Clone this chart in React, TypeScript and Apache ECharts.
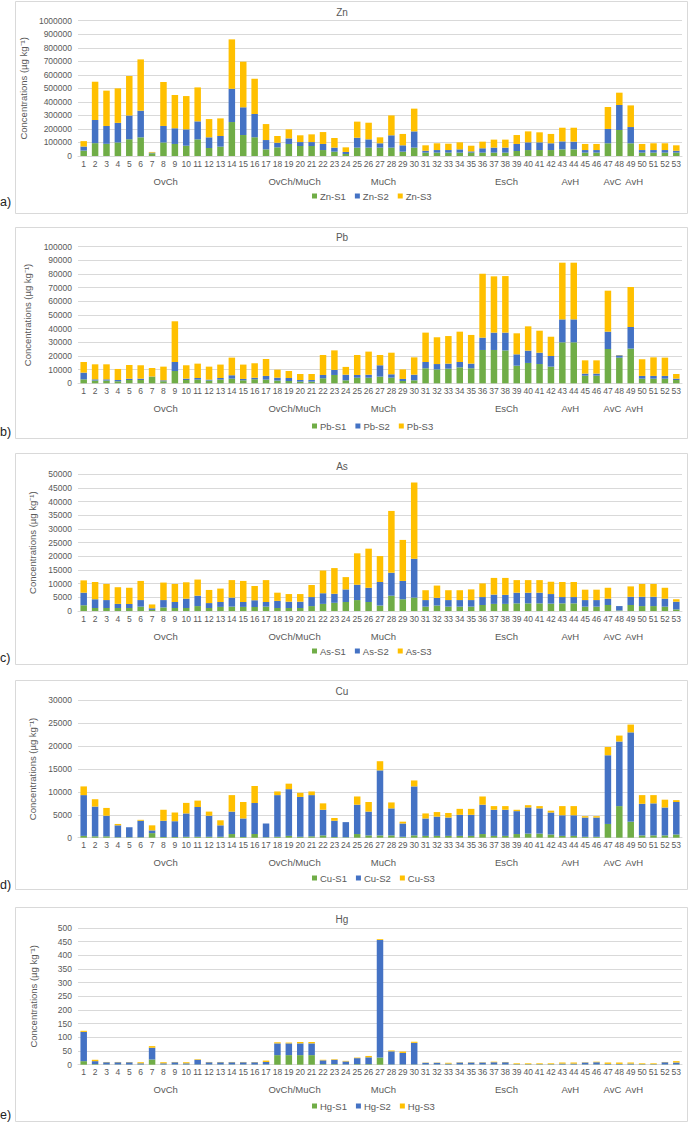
import React, { useEffect, useRef } from "react";
import * as echarts from "echarts";

const categories = Array.from({ length: 53 }, (_, i) => String(i + 1));

const groupPositions = [8.2, 19.5, 27.3, 38.1, 43.7, 47.4, 49.3];
const groupLabels = ["OvCh", "OvCh/MuCh", "MuCh", "EsCh", "AvH", "AvC", "AvH"];

const znS1 = [40000, 95000, 90000, 100000, 123000, 138000, 20000, 100000, 89000, 76000, 123000, 59000, 69000, 251000, 155000, 138000, 49000, 64000, 89000, 74000, 74000, 44000, 32000, 15000, 62000, 62000, 62000, 62000, 32000, 62000, 25000, 25000, 25000, 25000, 25000, 25000, 25000, 25000, 37000, 44000, 44000, 44000, 49000, 49000, 25000, 25000, 94000, 192000, 94000, 25000, 25000, 25000, 25000];
const znS2 = [30000, 171000, 132000, 145000, 177000, 197000, 5000, 122000, 116000, 121000, 133000, 79000, 79000, 246000, 205000, 172000, 69000, 34000, 41000, 29000, 29000, 45000, 30000, 15000, 73000, 61000, 32000, 91000, 47000, 120000, 14000, 19000, 19000, 24000, 9000, 32000, 37000, 37000, 52000, 57000, 57000, 50000, 59000, 57000, 19000, 19000, 106000, 185000, 120000, 19000, 19000, 19000, 14000];
const znS3 = [40000, 283000, 261000, 255000, 291000, 379000, 5000, 325000, 246000, 246000, 251000, 135000, 130000, 365000, 337000, 261000, 118000, 50000, 67000, 50000, 57000, 88000, 71000, 34000, 119000, 123000, 44000, 147000, 84000, 168000, 40000, 50000, 47000, 52000, 42000, 49000, 59000, 59000, 66000, 81000, 74000, 69000, 101000, 103000, 45000, 45000, 162000, 91000, 160000, 45000, 50000, 50000, 40000];

const pbS1 = [2900, 2000, 2000, 1500, 2400, 2400, 4600, 1500, 9000, 2400, 2700, 2000, 2700, 3400, 2200, 2900, 2700, 2000, 1700, 1200, 1200, 3700, 6100, 2200, 4100, 4100, 4900, 4100, 1700, 2200, 11000, 10200, 10700, 11700, 11000, 24400, 24400, 24100, 12900, 14900, 14100, 12200, 30000, 30000, 5600, 5600, 25100, 18800, 25400, 3400, 3400, 3400, 2400];
const pbS2 = [4900, 900, 900, 900, 1000, 1000, 300, 700, 6600, 1000, 1200, 700, 1200, 2500, 1000, 1200, 2700, 2100, 2200, 1200, 1200, 2400, 3700, 4100, 2000, 2200, 8300, 2500, 1500, 4100, 4600, 3900, 3700, 3900, 3400, 9000, 12700, 13000, 8300, 9000, 8300, 7800, 16800, 16800, 1500, 1500, 12700, 1700, 15800, 2000, 2000, 2000, 1000];
const pbS3 = [7800, 11000, 11000, 8100, 10000, 9800, 6300, 10000, 29800, 9800, 10500, 9500, 9800, 12900, 10500, 10500, 12400, 5900, 5100, 4400, 4400, 14600, 14300, 5700, 14600, 16900, 7500, 15800, 7000, 12700, 21500, 19600, 20200, 22200, 21000, 46800, 41200, 41400, 15400, 17800, 16100, 14100, 41500, 41500, 9700, 9700, 30000, 200, 29300, 12200, 13600, 13400, 3400];

const asS1 = [2100, 1100, 1100, 1100, 1100, 1600, 400, 1300, 1100, 1100, 1800, 1100, 1500, 1600, 1500, 1500, 1600, 1100, 1100, 1100, 1800, 2600, 3000, 3300, 4000, 3300, 2000, 5600, 4300, 4900, 1600, 2000, 1600, 1600, 1600, 2200, 2600, 2600, 2800, 2800, 2800, 2700, 2800, 2800, 1600, 1600, 2200, 200, 2200, 1800, 1800, 1600, 600];
const asS2 = [4600, 3200, 2900, 1500, 1500, 2400, 600, 2700, 2200, 3400, 3800, 1800, 1800, 3300, 1800, 2400, 1700, 2600, 2300, 2300, 3300, 3900, 3300, 4600, 5600, 5200, 8600, 8400, 6700, 14200, 2400, 2800, 2400, 2400, 2400, 2900, 3400, 3300, 3900, 3900, 3900, 3500, 2300, 2300, 2400, 2400, 2300, 1600, 3000, 3400, 3400, 2900, 2800];
const asS3 = [4500, 6300, 5900, 6100, 5900, 7000, 1400, 6400, 6600, 6000, 5900, 4800, 4900, 6400, 7700, 5200, 8000, 3000, 2800, 2800, 4400, 8300, 9400, 4500, 11500, 14300, 9500, 22600, 15000, 27900, 3600, 4500, 3600, 3600, 3900, 5000, 6100, 6200, 4600, 4600, 4600, 4500, 5500, 5500, 3800, 3800, 4000, 0, 3800, 4700, 4700, 4000, 900];

const cuS1 = [400, 300, 300, 100, 100, 100, 1000, 150, 150, 200, 200, 200, 200, 800, 150, 800, 100, 200, 400, 200, 300, 500, 150, 100, 800, 500, 500, 500, 200, 500, 400, 400, 400, 400, 400, 800, 400, 400, 800, 900, 900, 700, 400, 400, 200, 200, 3000, 6900, 3500, 500, 500, 500, 700];
const cuS2 = [8900, 6500, 4500, 2600, 2200, 3600, 600, 3550, 3450, 5100, 6500, 4600, 2500, 4900, 4050, 6800, 3000, 9100, 10200, 8700, 9000, 5600, 3550, 3300, 6400, 5200, 14200, 5900, 2900, 10700, 3800, 4200, 4000, 4600, 4600, 6400, 5700, 5700, 5000, 5700, 5500, 4800, 4500, 4500, 4200, 4200, 15000, 14100, 19500, 6900, 7000, 6100, 7100];
const cuS3 = [1900, 1600, 1700, 300, 0, 200, 1100, 2400, 1900, 2300, 1400, 900, 1100, 3600, 3600, 3700, 0, 800, 1200, 900, 800, 1400, 600, 0, 1800, 2100, 2000, 1300, 400, 1300, 1100, 1000, 1000, 1300, 1300, 1800, 800, 800, 300, 500, 500, 400, 2000, 2000, 300, 300, 1800, 1300, 1700, 1900, 1800, 1700, 400];

const hgS1 = [13, 2, 1, 1, 1, 1, 19, 1, 1, 1, 1, 1, 1, 1, 1, 1, 1, 35, 35, 35, 35, 2, 2, 1, 2, 2, 26, 1, 1, 1, 1, 1, 1, 1, 1, 1, 1, 1, 1, 1, 1, 1, 1, 1, 1, 1, 1, 1, 1, 1, 1, 1, 1];
const hgS2 = [107, 11, 8, 8, 8, 4, 43, 4, 8, 4, 17, 8, 8, 8, 8, 8, 9, 43, 43, 43, 43, 14, 16, 11, 22, 25, 430, 48, 42, 79, 6, 6, 3, 7, 7, 7, 8, 8, 1, 1, 1, 1, 3, 3, 7, 8, 2, 2, 3, 1, 1, 8, 7];
const hgS3 = [4, 5, 1, 1, 1, 4, 6, 4, 1, 4, 2, 1, 1, 1, 1, 1, 5, 4, 3, 5, 5, 2, 2, 2, 2, 5, 3, 3, 5, 4, 1, 1, 3, 1, 1, 1, 2, 1, 3, 3, 3, 3, 4, 4, 1, 2, 5, 5, 4, 3, 3, 1, 5];

const yMax = [1000000, 100000, 50000, 30000, 500];
const yInterval = [100000, 10000, 5000, 5000, 50];
const elements = ["Zn", "Pb", "As", "Cu", "Hg"];
const letters = ["a)", "b)", "c)", "d)", "e)"];
const seriesData = [
  [znS1, znS2, znS3],
  [pbS1, pbS2, pbS3],
  [asS1, asS2, asS3],
  [cuS1, cuS2, cuS3],
  [hgS1, hgS2, hgS3],
];

// layout (pixels)
const boxTop = [1, 227, 453, 680, 907];
const boxBottom = [213, 438, 664, 889, 1121];
const gridTop = [20.7, 246.7, 474.3, 700.3, 928];
const gridHeight = [135.3, 136.6, 136.7, 137.4, 136.7];
const titleY = [13, 238, 467, 692, 920];
const legendY = [197, 427, 652, 879, 1107];
const letterY = [202, 432, 658, 885, 1115];

const colors = ["#70AD47", "#4472C4", "#FFC000"];
const textColor = "#595959";
const gridColor = "#D9D9D9";
const font = "Liberation Sans, Arial, sans-serif";

export default function App() {
  const ref = useRef<HTMLDivElement>(null);
  useEffect(() => {
    if (!ref.current) return;
    const chart = echarts.init(ref.current, undefined, { renderer: "svg" });
    const grid: any[] = [];
    const xAxis: any[] = [];
    const yAxis: any[] = [];
    const series: any[] = [];
    const title: any[] = [];
    const legend: any[] = [];
    const graphic: any[] = [];

    elements.forEach((el, p) => {
      grid.push({ left: 78, right: 16, top: gridTop[p], height: gridHeight[p] });
      xAxis.push({
        type: "category",
        gridIndex: p,
        data: categories,
        axisLine: { show: true, lineStyle: { color: gridColor } },
        axisTick: { show: false },
        axisLabel: { interval: 0, fontSize: 8.5, color: textColor, margin: 3, fontFamily: font },
      });
      xAxis.push({
        type: "value",
        gridIndex: p,
        position: "bottom",
        min: 0.5,
        max: 53.5,
        axisLine: { show: false },
        axisTick: { show: false },
        splitLine: { show: false },
        axisLabel: {
          customValues: groupPositions,
          formatter: (v: number) => {
            const i = groupPositions.findIndex((g) => Math.abs(g - v) < 1e-6);
            return i >= 0 ? groupLabels[i] : "";
          },
          fontSize: 9.5,
          color: textColor,
          margin: 20,
          fontFamily: font,
        },
      });
      yAxis.push({
        type: "value",
        gridIndex: p,
        min: 0,
        max: yMax[p],
        interval: yInterval[p],
        axisLine: { show: false },
        axisTick: { show: false },
        splitLine: { lineStyle: { color: gridColor, width: 1 } },
        axisLabel: { formatter: (v: number) => String(v), fontSize: 8.5, color: textColor, margin: 6, fontFamily: font },
        name: "Concentrations (µg kg⁻¹)",
        nameLocation: "middle",
        nameGap: 40,
        nameTextStyle: { fontSize: 9.5, color: textColor, fontFamily: font },
      });
      seriesData[p].forEach((d, s) => {
        series.push({
          type: "bar",
          name: `${el}-S${s + 1}`,
          xAxisIndex: 2 * p,
          yAxisIndex: p,
          stack: "st" + p,
          data: d,
          barWidth: 6.5,
          itemStyle: { color: colors[s] },
        });
      });
      title.push({
        text: el,
        left: 342,
        textAlign: "center",
        top: titleY[p] - 6,
        padding: 0,
        textStyle: { fontSize: 10, fontWeight: "normal", color: textColor, fontFamily: font },
      });
      legend.push({
        data: [`${el}-S1`, `${el}-S2`, `${el}-S3`],
        left: 312,
        top: legendY[p] - 6,
        padding: 0,
        icon: "rect",
        itemWidth: 5,
        itemHeight: 5,
        itemGap: 9,
        textStyle: { fontSize: 9.5, color: textColor, fontFamily: font, padding: [0, 0, 0, -2] },
      });
      graphic.push({
        type: "rect",
        z: -10,
        silent: true,
        shape: { x: 15.5, y: boxTop[p] + 0.5, width: 672, height: boxBottom[p] - boxTop[p] },
        style: { fill: "#fff", stroke: gridColor, lineWidth: 1 },
      });
      graphic.push({
        type: "text",
        x: 0,
        y: letterY[p],
        style: { text: letters[p], fontSize: 12.5, fill: "#222", font: `12.5px ${font}`, verticalAlign: "middle" },
      });
    });

    chart.setOption({
      animation: false,
      backgroundColor: "#fff",
      textStyle: { fontFamily: font },
      grid,
      xAxis,
      yAxis,
      series,
      title,
      legend,
      graphic,
    });
    return () => chart.dispose();
  }, []);
  return (
    <div
      ref={ref}
      style={{ position: "absolute", left: 0, top: 0, width: 698, height: 1124 }}
    />
  );
}
